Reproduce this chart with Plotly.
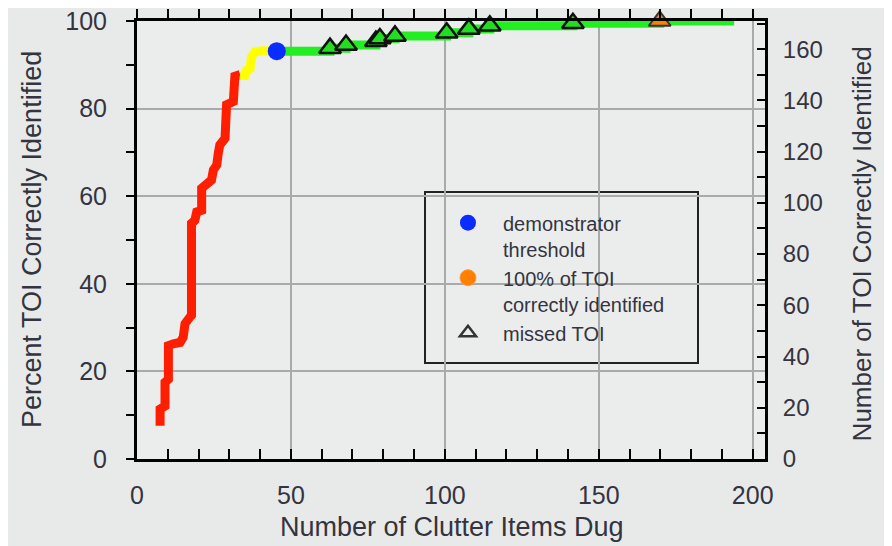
import plotly.graph_objects as go

# ---- data ----
red_x = [7.5, 7.5, 9.1, 9.1, 10.2, 10.2, 11.8, 14.0, 15.0, 15.6, 17.2, 17.7, 17.7, 18.8, 19.4, 21.0,
         21.0, 22.6, 24.2, 24.8, 25.9, 26.4, 26.9, 28.6, 29.1, 31.3, 31.8, 33.5]
red_y = [7.6, 11.4, 12.1, 17.5, 18.2, 25.9, 26.3, 26.6, 27.8, 30.9, 32.4, 32.8, 53.8, 54.5, 56.4, 56.8,
         61.8, 62.5, 63.7, 66.0, 67.1, 69.8, 71.7, 73.2, 80.9, 81.6, 87.4, 87.8]

yellow_x = [33.5, 35.1, 35.6, 36.7, 37.2, 38.3, 40.5, 45.4]
yellow_y = [87.8, 87.6, 88.7, 89.1, 91.8, 92.9, 93.2, 93.1]

green_x = [45.4, 62.7, 67.9, 77.6, 78.9, 83.8, 100.6, 107.8, 114.6, 141.6, 169.8, 194.0]
green_y = [93.1, 93.8, 94.5, 95.4, 96.0, 96.6, 97.3, 98.2, 98.9, 99.5, 100.0, 100.0]

missed_x = [62.7, 67.9, 77.6, 78.9, 83.8, 100.6, 107.8, 114.6, 141.6]
missed_y = [93.8, 94.5, 95.4, 96.0, 96.6, 97.3, 98.2, 98.9, 99.5]

threshold_x = [45.4]
threshold_y = [93.1]

full_x = [169.8]
full_y = [100.0]

total_toi = 171
x_max = 204

legend_names = ["demonstrator<br>threshold", "100% of TOI<br>correctly identified", "missed TOI"]

TXT = "#34343f"
FONT = "Liberation Sans, Arial, sans-serif"

fig = go.Figure()

fig.add_trace(go.Scatter(x=red_x, y=red_y, mode="lines",
                         line=dict(color="#ff1e00", width=9), showlegend=False, hoverinfo="skip"))
fig.add_trace(go.Scatter(x=yellow_x, y=yellow_y, mode="lines",
                         line=dict(color="#ffff00", width=9), showlegend=False, hoverinfo="skip"))
fig.add_trace(go.Scatter(x=green_x, y=green_y, mode="lines", line_shape="hv",
                         line=dict(color="#22ee22", width=9), showlegend=False, hoverinfo="skip"))
fig.add_trace(go.Scatter(x=missed_x, y=missed_y, mode="markers", cliponaxis=False,
                         marker=dict(symbol="triangle-up", size=19, color="#22dd22",
                                     line=dict(color="#111111", width=2.5)),
                         showlegend=False))
fig.add_trace(go.Scatter(x=full_x, y=full_y, mode="markers", cliponaxis=False,
                         marker=dict(symbol="triangle-up", size=19, color="#ff7f00",
                                     line=dict(color="#333333", width=2)),
                         showlegend=False))
fig.add_trace(go.Scatter(x=threshold_x, y=threshold_y, mode="markers", cliponaxis=False,
                         marker=dict(symbol="circle", size=18, color="#0a2cff",
                                     line=dict(color="#0a2cff", width=0)),
                         showlegend=False))

# legend-only entries
fig.add_trace(go.Scatter(x=[None], y=[None], mode="markers", name=legend_names[0],
                         marker=dict(symbol="circle", size=16, color="#0a2cff")))
fig.add_trace(go.Scatter(x=[None], y=[None], mode="markers", name=legend_names[1],
                         marker=dict(symbol="circle", size=16, color="#ff7f00",
                                     line=dict(color="#ff9944", width=1))))
fig.add_trace(go.Scatter(x=[None], y=[None], mode="markers", name=legend_names[2],
                         marker=dict(symbol="triangle-up-open", size=14, color="#333333",
                                     line=dict(width=2.5))))

# helper traces so the secondary axes render
fig.add_trace(go.Scatter(x=[None], y=[None], xaxis="x2", yaxis="y", showlegend=False))
fig.add_trace(go.Scatter(x=[None], y=[None], xaxis="x", yaxis="y2", showlegend=False))

tickfont = dict(family=FONT, size=25, color=TXT)
tickfont_r = dict(family=FONT, size=24, color=TXT)

# the page adds an 8px body margin, so the figure is drawn 8px in from the top-left
fig.update_layout(
    width=884, height=538,
    margin=dict(l=129, r=127, t=13, b=87),
    paper_bgcolor="#e8eaea",
    plot_bgcolor="#ebeded",
    font=dict(family=FONT, color=TXT),
    xaxis=dict(range=[0, x_max], showline=True, linewidth=3, linecolor="black",
               ticks="inside", ticklen=10, tickwidth=2, tickcolor="black",
               tick0=0, dtick=50, showgrid=True, gridcolor="#a9abab", gridwidth=2,
               minor=dict(dtick=10, ticks="inside", ticklen=10, tickwidth=2,
                          tickcolor="black", showgrid=False),
               tickfont=tickfont, ticklabelstandoff=12, zeroline=False, automargin=False,
               ticklabeloverflow="allow"),
    xaxis2=dict(range=[0, x_max], overlaying="x", side="top", anchor="y",
                showline=True, linewidth=3, linecolor="black",
                ticks="outside", ticklen=9, tickwidth=2, tickcolor="black",
                tick0=0, dtick=10, showticklabels=False, showgrid=False, zeroline=False,
                automargin=False),
    yaxis=dict(range=[0, 100], showline=True, linewidth=3, linecolor="black",
               ticks="outside", ticklen=8, tickwidth=2, tickcolor="black",
               tick0=0, dtick=20, showgrid=True, gridcolor="#a9abab", gridwidth=2,
               minor=dict(dtick=10, ticks="outside", ticklen=8, tickwidth=2,
                          tickcolor="black", showgrid=False),
               tickfont=tickfont, ticklabelstandoff=14, zeroline=False, automargin=False,
               ticklabeloverflow="allow"),
    yaxis2=dict(range=[0, total_toi], overlaying="y", side="right", anchor="x",
                showline=True, linewidth=3, linecolor="black",
                ticks="inside", ticklen=8, tickwidth=2, tickcolor="black",
                tick0=0, dtick=20, showgrid=False,
                minor=dict(dtick=10, ticks="inside", ticklen=8, tickwidth=2,
                           tickcolor="black", showgrid=False),
                tickfont=tickfont_r, ticklabelstandoff=10, zeroline=False, automargin=False,
                ticklabeloverflow="allow"),
    legend=dict(x=0.4713, y=0.584, xanchor="left", yanchor="top",
                bgcolor="rgba(0,0,0,0)", borderwidth=0,
                font=dict(family=FONT, size=20, color=TXT),
                valign="top", itemwidth=60, tracegroupgap=0),
    showlegend=True,
)

fig.add_shape(type="rect", xref="paper", yref="paper",
              x0=(425 - 137) / 628, x1=(698 - 137) / 628,
              y0=(459 - 363) / 438, y1=(459 - 192) / 438,
              line=dict(color="#222222", width=2), fillcolor="#ebeded", layer="between")

fig.add_annotation(text="Percent TOI Correctly Identified", xref="paper", yref="paper",
                   x=(32 - 137) / 628, y=0.5, xanchor="center", yanchor="middle",
                   textangle=-90, showarrow=False,
                   font=dict(family=FONT, size=27, color=TXT))
fig.add_annotation(text="Number of TOI Correctly Identified", xref="paper", yref="paper",
                   x=(862 - 137) / 628, y=0.49, xanchor="center", yanchor="middle",
                   textangle=-90, showarrow=False,
                   font=dict(family=FONT, size=26, color=TXT))
fig.add_annotation(text="Number of Clutter Items Dug", xref="paper", yref="paper",
                   x=(452 - 137) / 628, y=(459 - 527) / 438, xanchor="center", yanchor="middle",
                   showarrow=False,
                   font=dict(family=FONT, size=27, color=TXT))

fig.write_html("out.html")
